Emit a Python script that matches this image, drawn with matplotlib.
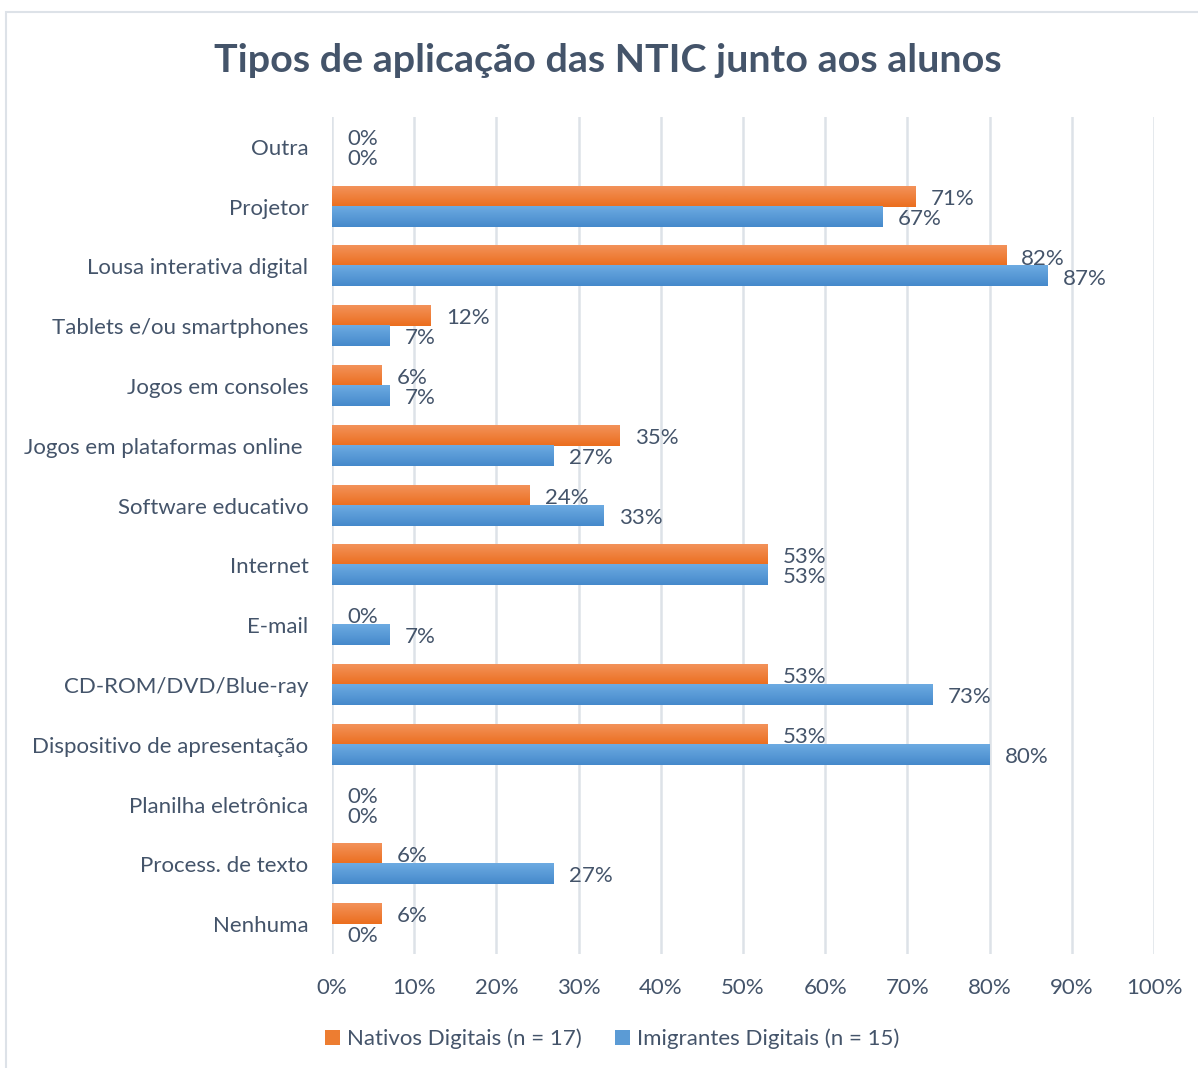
import numpy as np
import matplotlib.pyplot as plt
import matplotlib.ticker as ticker
from matplotlib.colors import LinearSegmentedColormap
from matplotlib.patches import Rectangle

categorias = ['Outra', 'Projetor', 'Lousa interativa digital', 'Tablets e/ou smartphones',
              'Jogos em consoles', 'Jogos em plataformas online ', 'Software educativo',
              'Internet', 'E-mail', 'CD-ROM/DVD/Blue-ray', 'Dispositivo de apresentação',
              'Planilha eletrônica', 'Process. de texto', 'Nenhuma']
nativos = [0, 71, 82, 12, 6, 35, 24, 53, 0, 53, 53, 0, 6, 6]
imigrantes = [0, 67, 87, 7, 7, 27, 33, 53, 7, 73, 80, 0, 27, 0]
xticks = [0, 10, 20, 30, 40, 50, 60, 70, 80, 90, 100]

plt.rcParams['font.family'] = ['Lato', 'DejaVu Sans']
txt = '#44546A'
fs = 16

fig = plt.figure(figsize=(11.98, 10.68), dpi=100)
# moldura (só topo e esquerda aparecem no recorte)
fig.patches.append(Rectangle((6/1198, -0.1), 1.2, 1 - 12/1068 + 0.1, transform=fig.transFigure,
                             fill=False, edgecolor='#DDE2E8', linewidth=1.5))
ax = fig.add_axes([332/1198, 114/1068, 822/1198, 837/1068])

y = np.arange(len(categorias))
h = 0.335
cm_or = LinearSegmentedColormap.from_list('or', ['#F3925A', '#EB6E1E'])
cm_bl = LinearSegmentedColormap.from_list('bl', ['#6DABE2', '#4589CB'])
grad = np.linspace(0, 1, 50).reshape(-1, 1)

b1 = ax.barh(y - h/2, nativos, height=h, color='#ED7D31', zorder=2, label='Nativos Digitais (n = 17)')
b2 = ax.barh(y + h/2, imigrantes, height=h, color='#5B9BD5', zorder=2, label='Imigrantes Digitais (n = 15)')
for bars, cm in ((b1, cm_or), (b2, cm_bl)):
    for b in bars:
        if b.get_width() > 0:
            x0, y0, w, hh = b.get_x(), b.get_y(), b.get_width(), b.get_height()
            # eixo invertido: y0 é o topo visual
            ax.imshow(grad, extent=[x0, x0 + w, y0 + hh, y0], origin='upper', aspect='auto',
                      cmap=cm, zorder=3, interpolation='bilinear')

for bars in (b1, b2):
    for b in bars:
        v = b.get_width()
        ax.annotate(f'{v:.0f}%', (v, b.get_y() + b.get_height()/2), xytext=(11, -1.5),
                    textcoords='offset points', ha='left', va='center', fontsize=fs, color=txt)

ax.set_xlim(0, 100)
ax.set_ylim(len(categorias) - 0.5, -0.5)
ax.set_xticks(xticks)
ax.xaxis.set_major_formatter(ticker.FuncFormatter(lambda v, _: f'{v:.0f}%'))
ax.set_yticks(y)
ax.set_yticklabels(categorias)
ax.tick_params(axis='both', length=0, labelsize=fs, labelcolor=txt)
ax.tick_params(axis='y', pad=17)
ax.tick_params(axis='x', pad=17)
ax.grid(axis='x', color='#DDE2E8', linewidth=1.8, zorder=0)
ax.set_axisbelow(True)
for s in ax.spines.values():
    s.set_visible(False)

fig.text(608/1198, 1 - 60/1068, 'Tipos de aplicação das NTIC junto aos alunos', ha='center', va='center',
         fontsize=28.4, fontweight='bold', color=txt)

leg = fig.legend(handles=[b1, b2], loc='center', bbox_to_anchor=(612/1198, 1 - 1039/1068), ncol=2,
                 frameon=False, fontsize=fs, handlelength=0.7, handleheight=0.7, handletextpad=0.3,
                 columnspacing=1.5, labelcolor=txt)

fig.savefig('out.png', dpi=100)
